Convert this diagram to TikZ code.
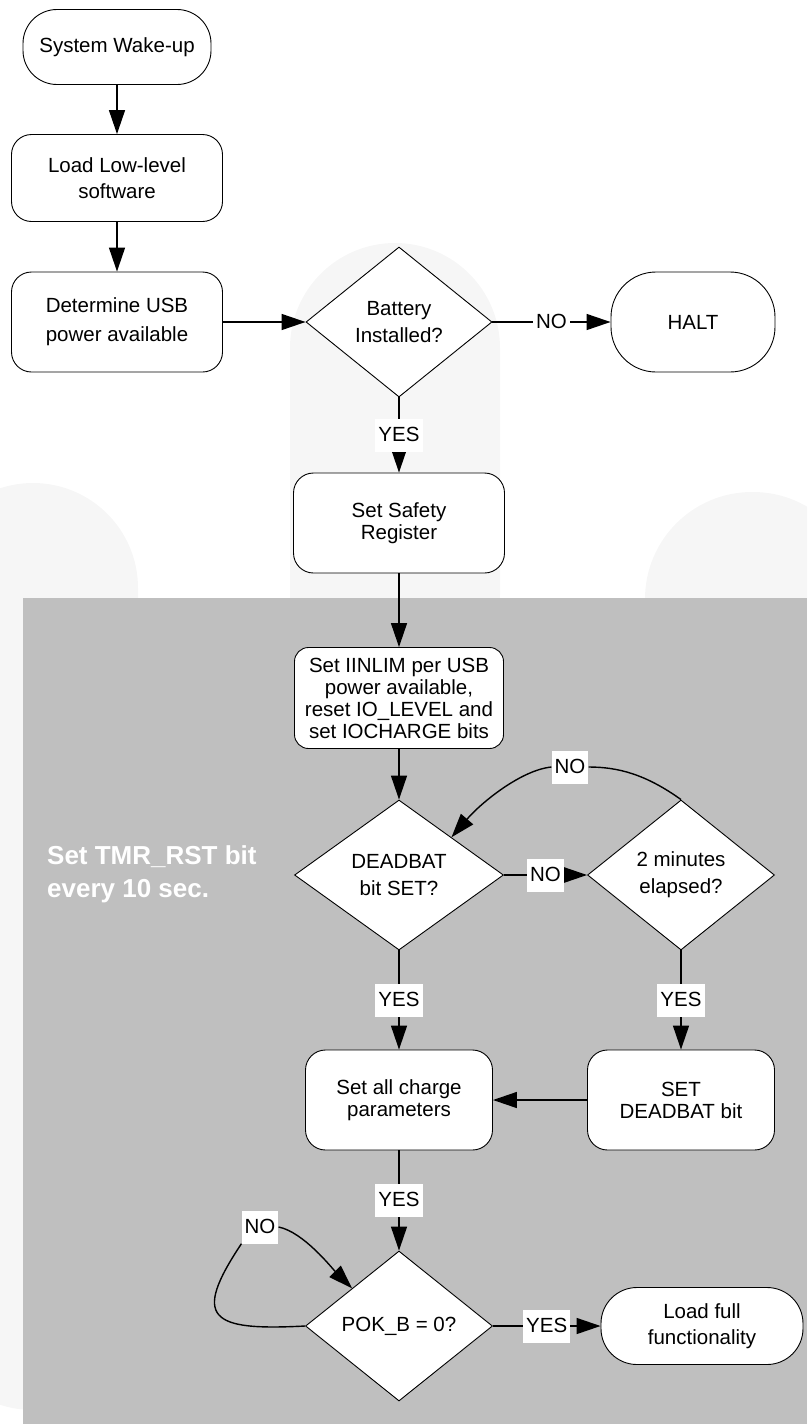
\documentclass[tikz,border=0pt]{standalone}
\usepackage{fontspec}
\setmainfont{Liberation Sans}
\usetikzlibrary{shapes.geometric,arrows.meta}
\definecolor{panel}{RGB}{191,191,191}
\definecolor{wmark}{RGB}{246,246,246}

\begin{document}
\begin{tikzpicture}[x=1pt,y=-1pt,
  font=\fontsize{20.5}{22}\selectfont,
  box/.style={draw,fill=white,line width=0.9pt,rounded corners=20pt,
    minimum width=211pt,minimum height=100pt,align=center,inner sep=2pt},
  term/.style={box,rounded corners=36pt},
  decide/.style={draw,fill=white,line width=0.9pt,diamond,inner sep=0pt,
    minimum width=187pt,minimum height=150pt,align=center},
  lbl/.style={fill=white,inner xsep=3pt,inner ysep=0pt,text height=15pt,
    text depth=3pt,minimum height=33pt},
  arr/.style={line width=1.4pt,-{Triangle[length=24pt,width=16pt]}},
  wire/.style={line width=1.4pt},
  note/.style={text=white,font=\fontsize{26}{33}\selectfont\bfseries,
    align=left,inner sep=0pt,anchor=west}]

\useasboundingbox (0,0) rectangle (807,1424);

%   fondo
\begin{scope}
\clip (0,0) rectangle (807,1424);
\fill[wmark,rounded corners=105pt] (290,243) rectangle (500,700);
\fill[wmark,rounded corners=105pt] (-72,483) rectangle (138,1410);
\fill[wmark,rounded corners=107pt] (645,492) rectangle (860,1500);
\fill[panel] (23,598) rectangle (807,1424);
\end{scope}

\node[note] (tmr) at (47,874) {Set TMR\_RST bit\\every 10 sec.};

\node[term,minimum width=188pt,minimum height=75pt,rounded corners=34pt] (wake) at (117,47) {System Wake-up};
\node[box,minimum height=87pt] (lowsw) at (117,178) {Load Low-level\\[4pt]software};
\node[box] (usb) at (117,322) {Determine USB\\[7pt]power available};
\node[decide,minimum width=186pt] (batt) at (399,322) {Battery\\[5pt]Installed?};
\node[term,minimum width=164pt,rounded corners=45pt] (halt) at (693,322) {HALT};
\node[box] (safety) at (399,523) {Set Safety\\Register};

\node[box,minimum width=209pt,minimum height=101pt,rounded corners=14pt,inner sep=1pt] (iinlim) at (399,698) {Set IINLIM per USB\\power available,\\reset IO\_LEVEL and\\set IOCHARGE bits};
\node[decide,minimum width=209pt] (dead) at (399,875) {DEADBAT\\[5pt]bit SET?};
\node[decide] (mins) at (681,875) {2 minutes\\[5pt]elapsed?};
\node[box,minimum width=187pt] (charge) at (399,1100) {Set all charge\\parameters};
\node[box,minimum width=187pt] (setdb) at (681,1100) {SET\\DEADBAT bit};
\node[decide] (pok) at (399,1326) {POK\_B = 0?};
\node[term,minimum width=202pt,minimum height=77pt,rounded corners=36pt] (full) at (702,1326) {Load full\\[4pt]functionality};

%   flechas
\draw[arr] (wake) -- (lowsw);
\draw[arr] (lowsw) -- (usb);
\draw[arr] (usb) -- (batt);
\draw[arr] (batt) -- node[lbl] {NO} (halt);
\draw[arr] (batt) -- node[lbl] {YES} (safety);
\draw[arr] (safety) -- (iinlim);
\draw[arr] (iinlim) -- (dead);
\draw[arr] (dead) -- node[lbl] {NO} (mins);
\draw[arr] (dead) -- node[lbl] {YES} (charge);
\draw[arr] (mins) -- node[lbl] {YES} (setdb);
\draw[arr] (setdb) -- (charge);
\draw[arr] (charge) -- node[lbl] {YES} (pok);
\draw[arr] (pok) -- node[lbl] {YES} (full);

%   lazos
\node[lbl] (noloop) at (570,767) {NO};
\draw[wire] (mins.north) .. controls +(-35,-25) and +(30,0) .. (noloop.east);
\draw[arr] (noloop.west) .. controls +(-30,3) and +(30,-35) .. (dead.north east);
\node[lbl] (nowait) at (260,1227) {NO};
\draw[wire] (pok.west) .. controls +(-95,5) and +(-50,75) .. (nowait.south west);
\draw[arr] (nowait.east) .. controls +(25,5) and +(-20,-20) .. (pok.north west);
\end{tikzpicture}
\end{document}
